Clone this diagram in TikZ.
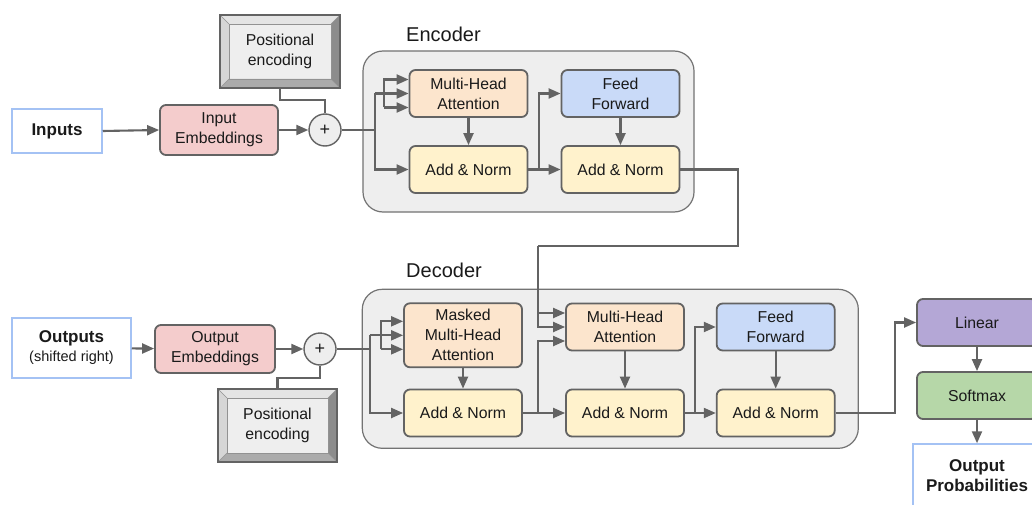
\documentclass[tikz,border=0pt]{standalone}
\usepackage{fontspec}
\setmainfont{Liberation Sans}
\usetikzlibrary{arrows.meta,calc}
\definecolor{lc}{HTML}{636363}
\definecolor{pinkf}{HTML}{F4CCCC}
\definecolor{orangef}{HTML}{FCE5CD}
\definecolor{yellowf}{HTML}{FFF2CC}
\definecolor{bluef}{HTML}{C9DAF8}
\definecolor{purplef}{HTML}{B4A7D6}
\definecolor{greenf}{HTML}{B6D7A8}
\definecolor{grayf}{HTML}{EEEEEE}
\definecolor{ioblue}{HTML}{A4C2F4}
\definecolor{bvtop}{HTML}{E4E4E4}
\definecolor{bvleft}{HTML}{D6D6D6}
\definecolor{bvright}{HTML}{8C8C8C}
\definecolor{bvbot}{HTML}{ABABAB}
\definecolor{txt}{HTML}{1A1A1A}
\newcommand\pebevel[1]{%
  \fill[bvtop] (#1.north west) -- (#1.north east) -- ($(#1.north east)+(-9,9)$) -- ($(#1.north west)+(9,9)$) -- cycle;
  \fill[bvright] (#1.north east) -- (#1.south east) -- ($(#1.south east)+(-9,-9)$) -- ($(#1.north east)+(-9,9)$) -- cycle;
  \fill[bvbot] (#1.south east) -- (#1.south west) -- ($(#1.south west)+(9,-9)$) -- ($(#1.south east)+(-9,-9)$) -- cycle;
  \fill[bvleft] (#1.south west) -- (#1.north west) -- ($(#1.north west)+(9,9)$) -- ($(#1.south west)+(9,-9)$) -- cycle;
  \draw[lc!70, line width=0.6pt] (#1.north west) -- ($(#1.north west)+(9,9)$)
       (#1.north east) -- ($(#1.north east)+(-9,9)$)
       (#1.south east) -- ($(#1.south east)+(-9,-9)$)
       (#1.south west) -- ($(#1.south west)+(9,-9)$);
  \draw[lc!70, line width=0.8pt] ($(#1.north west)+(9,9)$) rectangle ($(#1.south east)+(-9,-9)$);
  \draw[lc, line width=1.3pt] (#1.north west) rectangle (#1.south east);
}
\tikzset{
  box/.style={draw=lc, line width=1.8pt, rounded corners=6pt, minimum width=118pt,
    minimum height=47pt, inner sep=0pt, align=center, text=txt,
    font=\fontsize{15.8}{20}\selectfont},
  io/.style={draw=ioblue, line width=1.5pt, fill=white, inner sep=0pt, align=center, text=txt},
  groupbox/.style={draw=lc!90, line width=1.2pt, fill=grayf, rounded corners=20pt, inner sep=0pt},
  grouplabel/.style={font=\fontsize{20}{24}\selectfont, anchor=west, inner sep=0pt, text=txt},
  conn/.style={draw=lc, line width=2.1pt},
  arr/.style={conn, -{Triangle[length=12pt,width=10pt]}},
  plusnode/.style={circle, draw=lc, line width=1.4pt, fill=grayf, minimum size=32pt,
    inner sep=0pt, text=txt, font=\fontsize{18}{18}\selectfont},
  pebox/.style={draw=lc, line width=1.3pt, fill=grayf, inner sep=0pt, outer sep=0pt},
  petext/.style={align=center, inner sep=0pt, text=txt, font=\fontsize{15.8}{20}\selectfont},
}
\begin{document}
\begin{tikzpicture}[x=1pt, y=-1pt]
\useasboundingbox (0,0) rectangle (1032,505);
\clip (0,0) rectangle (1032,505);
\fill[white] (0,0) rectangle (1032,505);

% ---------- group boxes ----------
\node[groupbox, minimum width=331pt, minimum height=161pt] (enc) at (528.5,131.5) {};
\node[grouplabel] (enclabel) at (406,34) {Encoder};
\node[groupbox, minimum width=496pt, minimum height=159pt] (dec) at (610.3,368.8) {};
\node[grouplabel] (declabel) at (406,270) {Decoder};

% ---------- encoder side inputs ----------
\node[io, minimum width=90pt, minimum height=44pt, font=\fontsize{17}{20}\selectfont\bfseries] (inp) at (57,131) {Inputs};
\node[box, fill=pinkf, minimum height=50pt] (iemb) at (219,130) {Input\\Embeddings};
\node[plusnode] (c1) at (325,130) {+};
\node[pebox, minimum width=120pt, minimum height=73pt] (pe1) at (280,51.5) {};
\pebevel{pe1}
\node[petext] (pe1t) at (280,51.5) {Positional\\encoding};

% ---------- encoder blocks ----------
\node[box, fill=orangef] (emha) at (468.5,93.5) {Multi-Head\\Attention};
\node[box, fill=yellowf] (ean1) at (468.5,169.5) {Add \& Norm};
\node[box, fill=bluef] (eff) at (620.5,93.5) {Feed\\Forward};
\node[box, fill=yellowf] (ean2) at (620.5,169.5) {Add \& Norm};

% ---------- decoder side inputs ----------
\node[io, minimum width=119pt, minimum height=60pt, font=\fontsize{17}{19}\selectfont] (outp) at (71.5,348)
  {\textbf{Outputs}\\{\fontsize{14.5}{17}\selectfont (shifted right)}};
\node[box, fill=pinkf, minimum width=120pt, minimum height=48pt] (oemb) at (215,349) {Output\\Embeddings};
\node[plusnode] (c2) at (320,349) {+};
\node[pebox, minimum width=119pt, minimum height=73pt] (pe2) at (277.5,425.5) {};
\pebevel{pe2}
\node[petext] (pe2t) at (277.5,425.5) {Positional\\encoding};

% ---------- decoder blocks ----------
\node[box, fill=orangef, minimum height=64pt] (dmm) at (463,335.3) {Masked\\Multi-Head\\Attention};
\node[box, fill=yellowf] (dan1) at (463,413) {Add \& Norm};
\node[box, fill=orangef] (dmha) at (625,327) {Multi-Head\\Attention};
\node[box, fill=yellowf] (dan2) at (625,413) {Add \& Norm};
\node[box, fill=bluef] (dff) at (775.7,327) {Feed\\Forward};
\node[box, fill=yellowf] (dan3) at (775.7,413) {Add \& Norm};

% ---------- output column ----------
\node[box, fill=purplef, minimum width=120pt] (lin) at (977,322.5) {Linear};
\node[box, fill=greenf, minimum width=120pt] (soft) at (977,395.5) {Softmax};
\node[io, minimum width=128pt, minimum height=64pt, font=\fontsize{17}{20}\selectfont\bfseries] (oprob) at (977,476) {Output\\Probabilities};

% ---------- junction coordinates ----------
\coordinate (ea) at (375,130);
\coordinate (eb) at (384,93.5);
\coordinate (ec) at (539,169.5);
\coordinate (ex) at (738,169.5);
\coordinate (ed) at (538,246);
\coordinate (da) at (370,349);
\coordinate (db) at (381,335.3);
\coordinate (fx) at (695,413);
\coordinate (lx) at (895,413);
\path (emha.west) ++(0,-14) coordinate (emhat) ++(0,28) coordinate (emhab);
\path (dmm.west) ++(0,-14) coordinate (dmmt) ++(0,28) coordinate (dmmb);
\path (dmha.west) ++(0,-14) coordinate (dmhat) ++(0,28) coordinate (dmhab);

% ---------- connectors: encoder input ----------
\draw[arr] (inp.east) -- (iemb.west);
\draw[arr] (iemb) -- (c1);
\draw[conn] (pe1.south) -- ++(0,12) -| (c1.north);
\draw[conn] (c1.east) -- (ea);
\draw[arr] (ea |- emha.west) -- (emha.west);
\draw[arr] (ea |- emha.west) -- (ea |- ean1.west) -- (ean1.west);
\draw[arr] (eb |- emhab) -- (eb |- emhat) -- (emhat);
\draw[arr] (eb |- emhab) -- (emhab);

% ---------- connectors: encoder internal ----------
\draw[arr] (emha) -- (ean1);
\draw[arr] (ean1) -- (ean2);
\draw[arr] (ec) |- (eff.west);
\draw[arr] (eff) -- (ean2);

% ---------- encoder to decoder ----------
\draw[conn] (ean2.east) -- (ex) |- (ed);
\draw[arr] (ed) |- (dmhat);
\draw[arr] (ed |- dmhat) |- (dmha.west);

% ---------- connectors: decoder input ----------
\draw[arr] (outp) -- (oemb);
\draw[arr] (oemb) -- (c2);
\draw[conn] (c2.south) -- ++(0,12) -| (pe2.north);
\draw[conn] (c2.east) -- (da);
\draw[arr] (da |- dmm.west) -- (dmm.west);
\draw[arr] (da |- dmm.west) -- (da |- dan1.west) -- (dan1.west);
\draw[arr] (db |- dmmb) -- (db |- dmmt) -- (dmmt);
\draw[arr] (db |- dmmb) -- (dmmb);

% ---------- connectors: decoder internal ----------
\draw[arr] (dmm) -- (dan1);
\draw[arr] (dan1) -- (dan2);
\draw[arr] (ed |- dan1.east) |- (dmhab);
\draw[arr] (dmha) -- (dan2);
\draw[arr] (dan2) -- (dan3);
\draw[arr] (fx) |- (dff.west);
\draw[arr] (dff) -- (dan3);

% ---------- output column ----------
\draw[arr] (dan3.east) -- (lx) |- (lin.west);
\draw[arr] (lin) -- (soft);
\draw[arr] (soft) -- (oprob);
\end{tikzpicture}
\end{document}
